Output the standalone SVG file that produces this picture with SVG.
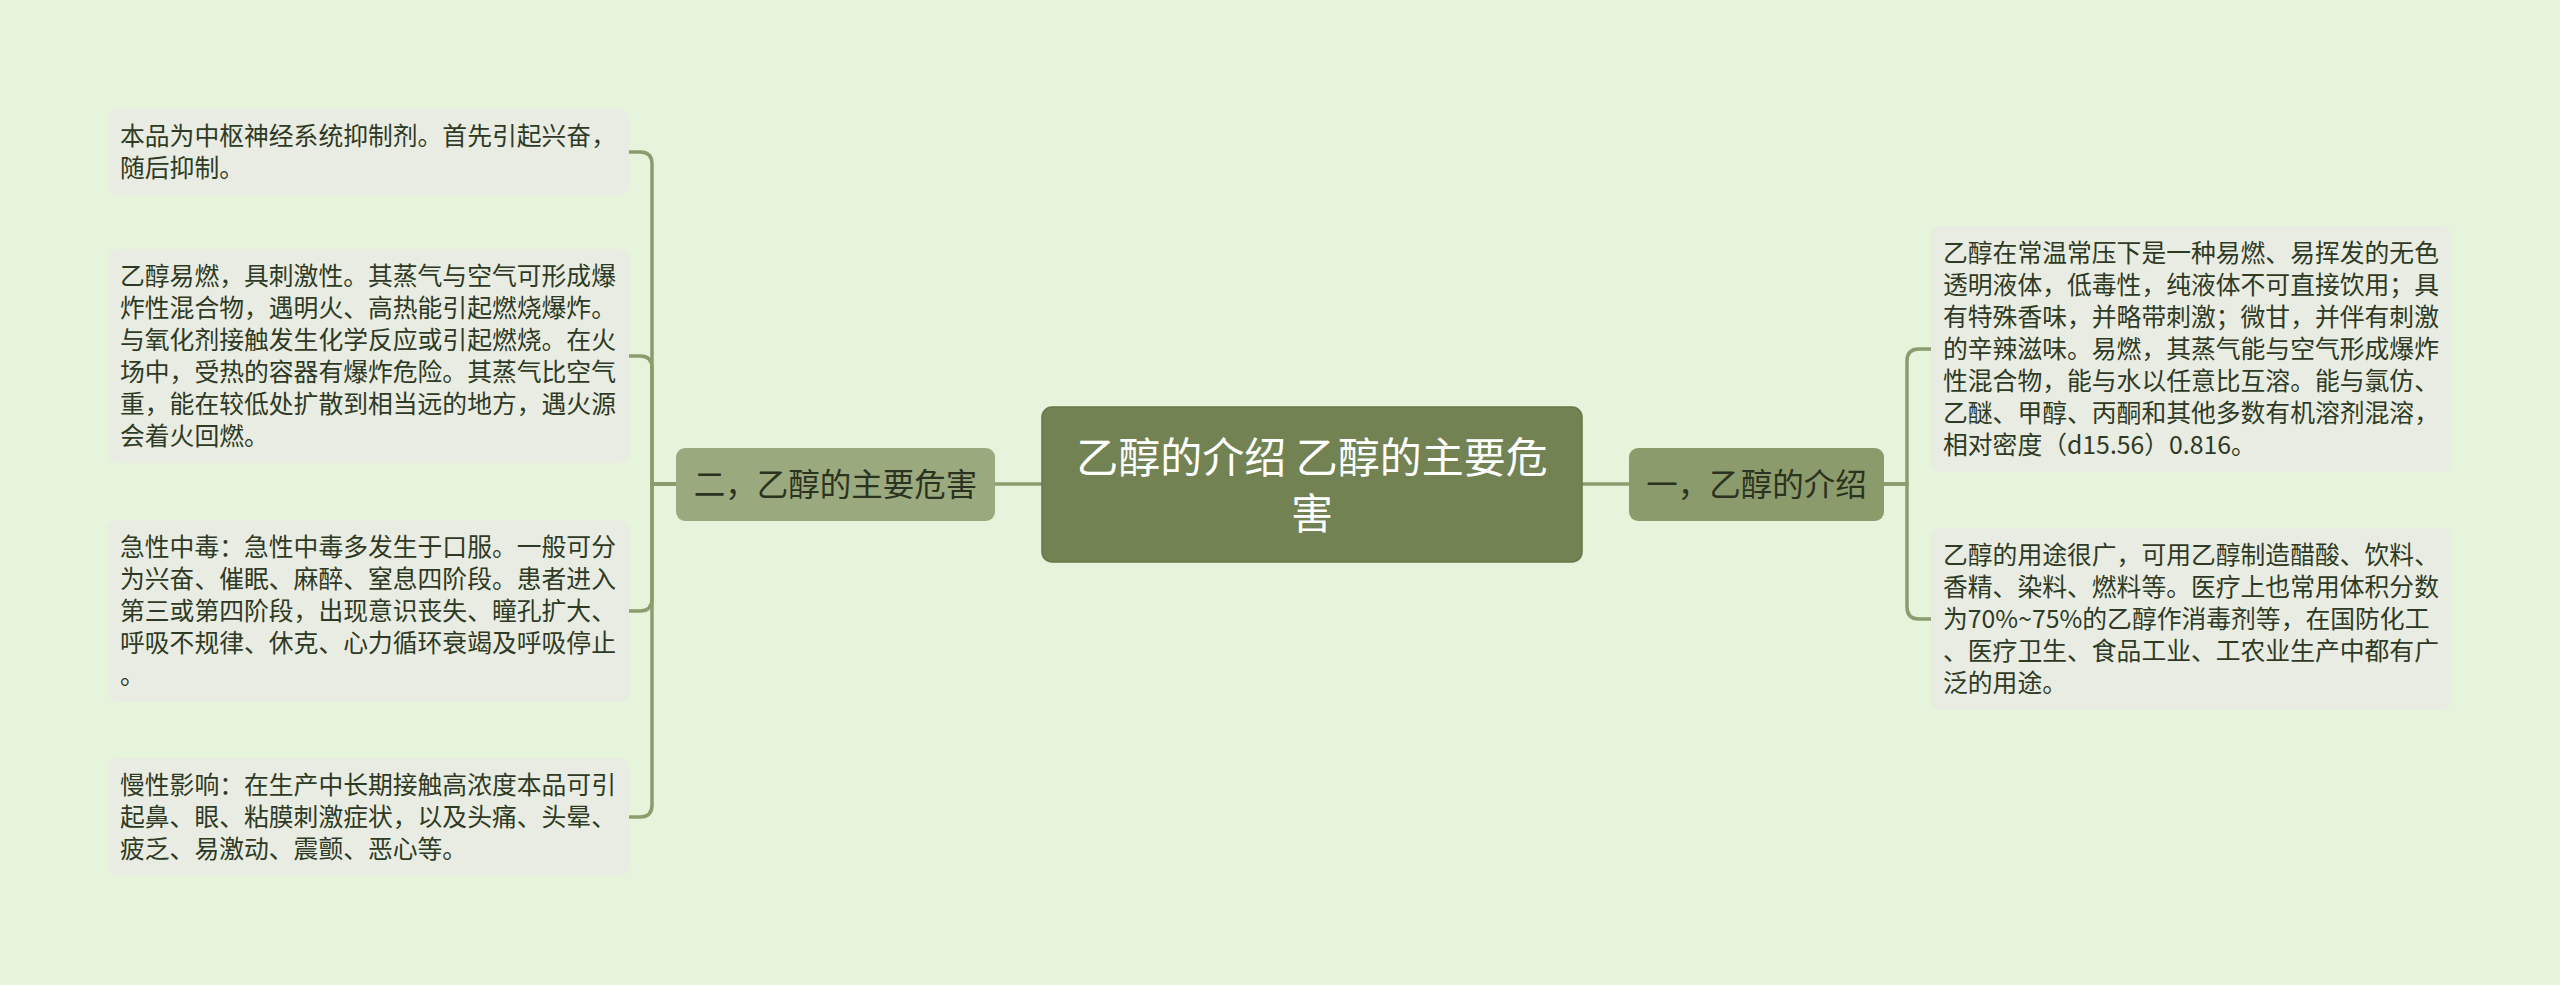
<svg xmlns="http://www.w3.org/2000/svg" width="2560" height="985" viewBox="0 0 2560 985">
<style>
.leaf rect{fill:#e8ece2}
.leaf text{font-family:"Noto Sans CJK SC","Noto Sans",sans-serif;font-size:24.8px;fill:#2f3a24}
.sub text{font-family:"Noto Sans CJK SC","Noto Sans",sans-serif;font-size:31.5px;fill:#2b3320;text-anchor:middle}
.root text{font-family:"Noto Sans CJK SC","Noto Sans",sans-serif;font-size:42px;fill:#ffffff;text-anchor:middle}
.conn path{fill:none;stroke:#8c9c6e;stroke-width:3.5;stroke-linecap:round}
</style>
<rect x="0" y="0" width="2560" height="985" fill="#e7f4dc"/>
<g class="conn" id="connectors">
<path d="M1042,484 H995"/>
<path d="M676,484 H652 V164 Q652,152 640,152 H629"/>
<path d="M676,484 H652 V368 Q652,356 640,356 H629"/>
<path d="M676,484 H652 V599 Q652,611 640,611 H629"/>
<path d="M676,484 H652 V805 Q652,817 640,817 H629"/>
<path d="M1582,484 H1629"/>
<path d="M1884,484 H1907 V361 Q1907,349 1919,349 H1931"/>
<path d="M1884,484 H1907 V607 Q1907,619 1919,619 H1931"/>
</g>
<g class="root" id="root">
<rect x="1042" y="407" width="540" height="155" rx="10" fill="#728253" stroke="#66774a" stroke-width="1.5"/>
<text x="1312" y="473">乙醇的介绍 乙醇的主要危</text>
<text x="1312" y="529">害</text>
</g>
<g class="sub" id="sub-hazard">
<rect x="676" y="448" width="319" height="73" rx="9" fill="#9aa97e"/>
<text x="835.5" y="496">二，乙醇的主要危害</text>
</g>
<g class="sub" id="sub-intro">
<rect x="1629" y="448" width="255" height="73" rx="9" fill="#8c9b6c"/>
<text x="1756.5" y="496">一，乙醇的介绍</text>
</g>
<g class="leaf" id="leaf-l1">
<rect x="108" y="109" width="521" height="86" rx="9"/>
<text x="120" y="145">本品为中枢神经系统抑制剂。首先引起兴奋，</text>
<text x="120" y="177">随后抑制。</text>
</g>
<g class="leaf" id="leaf-l2">
<rect x="108" y="249" width="521" height="214" rx="9"/>
<text x="120" y="285">乙醇易燃，具刺激性。其蒸气与空气可形成爆</text>
<text x="120" y="317">炸性混合物，遇明火、高热能引起燃烧爆炸。</text>
<text x="120" y="349">与氧化剂接触发生化学反应或引起燃烧。在火</text>
<text x="120" y="381">场中，受热的容器有爆炸危险。其蒸气比空气</text>
<text x="120" y="413">重，能在较低处扩散到相当远的地方，遇火源</text>
<text x="120" y="445">会着火回燃。</text>
</g>
<g class="leaf" id="leaf-l3">
<rect x="108" y="520" width="521" height="182" rx="9"/>
<text x="120" y="556">急性中毒：急性中毒多发生于口服。一般可分</text>
<text x="120" y="588">为兴奋、催眠、麻醉、窒息四阶段。患者进入</text>
<text x="120" y="620">第三或第四阶段，出现意识丧失、瞳孔扩大、</text>
<text x="120" y="652">呼吸不规律、休克、心力循环衰竭及呼吸停止</text>
<text x="120" y="684">。</text>
</g>
<g class="leaf" id="leaf-l4">
<rect x="108" y="758" width="521" height="118" rx="9"/>
<text x="120" y="794">慢性影响：在生产中长期接触高浓度本品可引</text>
<text x="120" y="826">起鼻、眼、粘膜刺激症状，以及头痛、头晕、</text>
<text x="120" y="858">疲乏、易激动、震颤、恶心等。</text>
</g>
<g class="leaf" id="leaf-r1">
<rect x="1931" y="226" width="521" height="246" rx="9"/>
<text x="1943" y="262">乙醇在常温常压下是一种易燃、易挥发的无色</text>
<text x="1943" y="294">透明液体，低毒性，纯液体不可直接饮用；具</text>
<text x="1943" y="326">有特殊香味，并略带刺激；微甘，并伴有刺激</text>
<text x="1943" y="358">的辛辣滋味。易燃，其蒸气能与空气形成爆炸</text>
<text x="1943" y="390">性混合物，能与水以任意比互溶。能与氯仿、</text>
<text x="1943" y="422">乙醚、甲醇、丙酮和其他多数有机溶剂混溶，</text>
<text x="1943" y="454">相对密度（d15.56）0.816。</text>
</g>
<g class="leaf" id="leaf-r2">
<rect x="1931" y="528" width="521" height="182" rx="9"/>
<text x="1943" y="564">乙醇的用途很广，可用乙醇制造醋酸、饮料、</text>
<text x="1943" y="596">香精、染料、燃料等。医疗上也常用体积分数</text>
<text x="1943" y="628">为70%~75%的乙醇作消毒剂等，在国防化工</text>
<text x="1943" y="660">、医疗卫生、食品工业、工农业生产中都有广</text>
<text x="1943" y="692">泛的用途。</text>
</g>
</svg>
